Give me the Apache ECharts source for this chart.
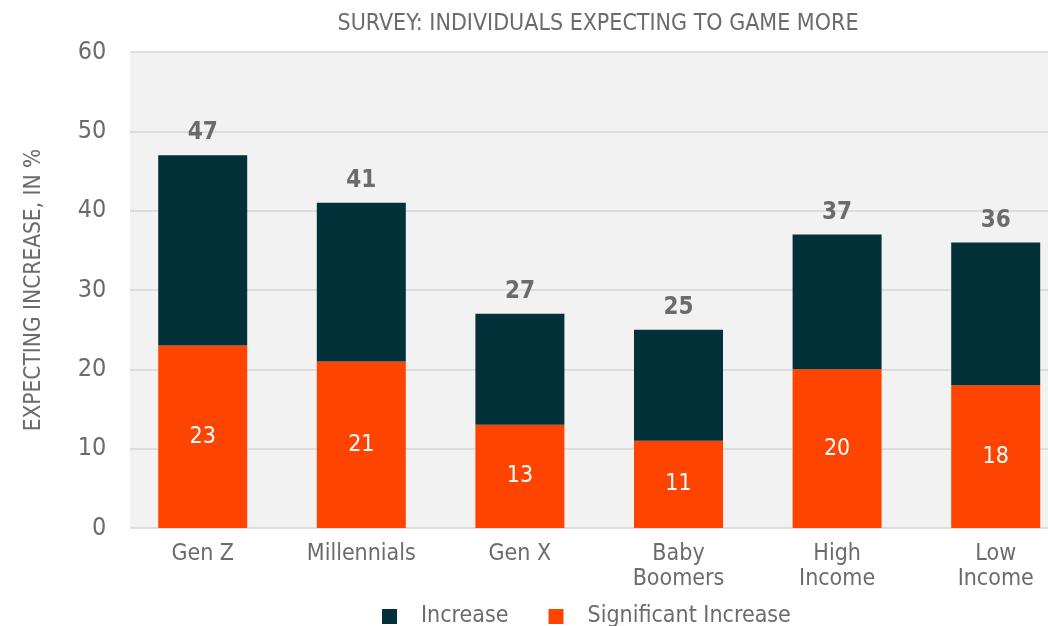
<!DOCTYPE html>
<html><head><meta charset="utf-8">
<script src="https://cdn.jsdelivr.net/npm/echarts@6/dist/echarts.min.js"></script>
<style>html,body{margin:0;padding:0;background:#fff}#c{width:1048px;height:626px}</style>
</head><body><div id="c"></div>
<script>
const categories = ['Gen Z', 'Millennials', 'Gen X', 'Baby\nBoomers', 'High\nIncome', 'Low\nIncome'];
const significantIncrease = [23, 21, 13, 11, 20, 18];
const increase = [24, 20, 14, 14, 17, 18];
const totals = [47, 41, 27, 25, 37, 36];
const yTicks = { min: 0, max: 60, interval: 10 };

const FONT = '"DejaVu Sans Condensed", "Liberation Sans Narrow", sans-serif';
const chart = echarts.init(document.getElementById('c'));
chart.setOption({
  animation: false,
  textStyle: { fontFamily: FONT },
  title: {
    text: 'SURVEY: INDIVIDUALS EXPECTING TO GAME MORE',
    left: 593, top: 8, textAlign: 'center',
    textStyle: { fontFamily: FONT, fontSize: 23, fontWeight: 'normal', color: '#6b6b6b' }
  },
  legend: {
    bottom: -7, left: 377, itemWidth: 15, itemHeight: 15, itemGap: 40,
    icon: 'rect',
    textStyle: { fontFamily: FONT, fontSize: 23, color: '#6b6b6b', padding: [0, 0, 0, 19] },
    data: ['Increase', 'Significant Increase']
  },
  grid: [
    { left: 123.4, right: -27, top: 52, bottom: 98, outerBoundsMode: 'none', containLabel: false },
    { left: 130, right: 0, top: 52, bottom: 98, outerBoundsMode: 'none', show: true, backgroundColor: '#f2f2f2', borderWidth: 0 }
  ],
  xAxis: [
    {
      type: 'category', gridIndex: 0, data: categories,
      axisLine: { show: false }, axisTick: { show: false },
      axisLabel: { fontFamily: FONT, fontSize: 23, color: '#6b6b6b', margin: 14, lineHeight: 25 }
    },
    { type: 'category', gridIndex: 1, data: categories, show: false }
  ],
  yAxis: [
    {
      type: 'value', gridIndex: 0, min: yTicks.min, max: yTicks.max, interval: yTicks.interval,
      name: 'EXPECTING INCREASE, IN %', nameLocation: 'middle', nameGap: 78, nameRotate: 90,
      nameTextStyle: { fontFamily: FONT, fontSize: 22.5, color: '#6b6b6b' },
      axisLine: { show: false }, axisTick: { show: false }, splitLine: { show: false },
      axisLabel: { fontFamily: FONT, fontSize: 25, color: '#6b6b6b', margin: 17 }
    },
    {
      type: 'value', gridIndex: 1, min: yTicks.min, max: yTicks.max, interval: yTicks.interval,
      axisLine: { show: false }, axisTick: { show: false }, axisLabel: { show: false },
      splitLine: { show: true, lineStyle: { color: '#d6d6d6', width: 1.5 } }
    }
  ],
  series: [
    {
      name: 'Significant Increase', type: 'bar', stack: 'a', data: significantIncrease,
      xAxisIndex: 0, yAxisIndex: 0, barWidth: 89,
      itemStyle: { color: '#fe4400' },
      label: { show: true, position: 'inside', color: '#ffffff', fontSize: 23, fontFamily: FONT }
    },
    {
      name: 'Increase', type: 'bar', stack: 'a', data: increase,
      xAxisIndex: 0, yAxisIndex: 0, barWidth: 89,
      itemStyle: { color: '#02313a' },
      label: {
        show: true, position: 'top', distance: 10, color: '#6b6b6b', fontSize: 24, fontWeight: 'bold', fontFamily: FONT,
        formatter: p => String(totals[p.dataIndex])
      }
    }
  ]
});
</script></body></html>
